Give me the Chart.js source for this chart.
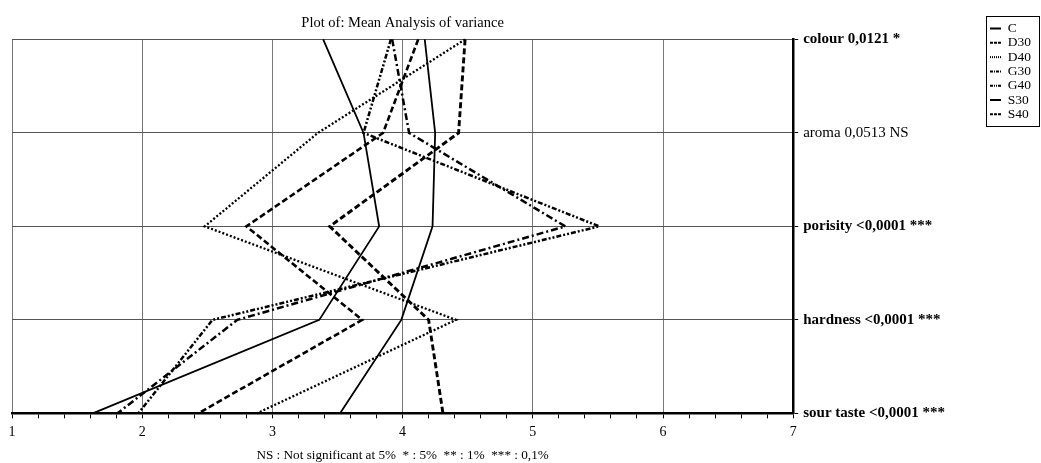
<!DOCTYPE html>
<html>
<head>
<meta charset="utf-8">
<script src="https://cdn.jsdelivr.net/npm/chart.js@4.4.1/dist/chart.umd.min.js"></script>
<style>
html,body{margin:0;padding:0;background:#fff;overflow:hidden;}
#wrap{width:1041px;height:463px;position:relative;}
</style>
</head>
<body>
<div id="wrap"><canvas id="c" width="1041" height="463"></canvas></div>
<script>
const categories = ['colour 0,0121 *', 'aroma 0,0513 NS', 'porisity <0,0001 ***', 'hardness <0,0001 ***', 'sour taste <0,0001 ***'];
const significant = [true, false, true, true, true];
const xTickValues = [1, 2, 3, 4, 5, 6, 7];
const seriesNames = ['C', 'D30', 'D40', 'G30', 'G40', 'S30', 'S40'];
const C   = [3.39, 3.70, 3.82, 3.36, 1.62];
const D30 = [4.12, 3.85, 2.80, 3.69, 2.43];
const D40 = [4.48, 3.35, 2.48, 4.41, 2.88];
const G30 = [3.92, 4.05, 5.25, 2.73, 1.81];
const G40 = [3.91, 3.70, 5.51, 2.54, 1.97];
const S30 = [4.17, 4.25, 4.23, 3.99, 3.52];
const S40 = [4.48, 4.43, 3.44, 4.20, 4.31];
const titleText = 'Plot of: Mean Analysis of variance';
const footText = 'NS : Not significant at 5%  * : 5%  ** : 1%  *** : 0,1%';

const SERIF = '"Liberation Serif", "Times New Roman", serif';
const styles = {
  C:   {dash: [], legendDash: [], width: 1.8},
  D30: {dash: [6, 3], legendDash: [3, 1], width: 2.6},
  D40: {dash: [2, 2], legendDash: [1, 1], width: 2.3},
  G30: {dash: [7, 3, 2, 3], legendDash: [3, 1, 1, 1], width: 2.5},
  G40: {dash: [5, 2, 2, 2, 2, 2], legendDash: [3, 1, 1, 1, 1, 1], width: 2.5},
  S30: {dash: [], legendDash: [], width: 1.8},
  S40: {dash: [6, 3], legendDash: [3, 1], width: 2.9}
};
const seriesData = {C, D30, D40, G30, G40, S30, S40};

const datasets = seriesNames.map(n => ({
  label: n,
  data: seriesData[n],
  borderColor: '#000',
  backgroundColor: '#000',
  borderWidth: styles[n].width,
  borderDash: styles[n].dash,
  pointRadius: 0,
  pointHoverRadius: 0,
  pointStyle: 'line',
  tension: 0,
  fill: false
}));

const legendFrame = {
  id: 'legendFrame',
  afterDraw(chart) {
    const l = chart.legend;
    if (!l || !l.legendHitBoxes || !l.legendHitBoxes.length) return;
    const hb = l.legendHitBoxes;
    const ctx = chart.ctx;
    const left = Math.min(...hb.map(b => b.left)) - 4;
    const top = Math.min(...hb.map(b => b.top)) - 6;
    const bottom = Math.max(...hb.map(b => b.top + b.height)) + 5;
    const right = Math.max(...hb.map(b => b.left + b.width)) + 8;
    ctx.save();
    ctx.strokeStyle = '#000';
    ctx.lineWidth = 1;
    ctx.strokeRect(Math.round(left) + 0.5, Math.round(top) + 0.5, Math.round(right - left), Math.round(bottom - top));
    ctx.restore();
  }
};

new Chart(document.getElementById('c'), {
  type: 'line',
  data: {labels: categories, datasets},
  plugins: [legendFrame],
  options: {
    indexAxis: 'y',
    responsive: false,
    animation: false,
    events: [],
    layout: {padding: {left: 12, right: 0, top: 0, bottom: 0}},
    plugins: {
      tooltip: {enabled: false},
      title: {
        display: true,
        text: titleText,
        fullSize: false,
        color: '#000',
        font: {family: SERIF, size: 14.5, weight: 'normal'},
        padding: {top: 14, bottom: 8}
      },
      legend: {
        display: true,
        position: 'right',
        align: 'start',
        title: {display: true, text: ' ', font: {size: 10}, padding: {top: 0, bottom: 9}},
        labels: {
          color: '#000',
          font: {family: SERIF, size: 13.5},
          usePointStyle: true,
          pointStyleWidth: 11,
          boxHeight: 8,
          padding: 0.8,
          generateLabels: chart => {
            const items = Chart.defaults.plugins.legend.labels.generateLabels(chart);
            items.forEach(it => {
              const n = seriesNames[it.datasetIndex];
              it.lineDash = styles[n].legendDash;
              it.lineWidth = 2;
              it.strokeStyle = '#000';
              it.pointStyle = 'line';
            });
            return items;
          }
        }
      }
    },
    scales: {
      x: {
        type: 'linear',
        min: 1,
        max: 7,
        position: 'bottom',
        border: {display: true, color: '#000', width: 2.5},
        grid: {
          color: c => (Math.abs(c.tick.value - Math.round(c.tick.value)) < 1e-6 ? '#777' : 'rgba(0,0,0,0)'),
          tickColor: '#000',
          tickLength: 5,
          lineWidth: 1
        },
        ticks: {
          stepSize: 0.2,
          autoSkip: false,
          maxRotation: 0,
          padding: 6,
          color: '#000',
          font: {family: SERIF, size: 14},
          callback: v => {
            const r = Math.round(v);
            return (Math.abs(v - r) < 1e-6 && xTickValues.includes(r)) ? String(r) : '';
          }
        },
        title: {
          display: true,
          text: footText,
          color: '#000',
          font: {family: SERIF, size: 13.2},
          padding: {top: 0, bottom: 0}
        }
      },
      y: {
        type: 'category',
        position: 'right',
        offset: false,
        border: {display: true, color: '#000', width: 2.5},
        grid: {color: '#555', lineWidth: 1, tickColor: '#000', tickLength: 5},
        ticks: {
          color: '#000',
          padding: 5,
          font: c => ({family: SERIF, size: 15, weight: significant[c.index] ? 'bold' : 'normal'})
        },
        afterFit: s => { s.width = 196; }
      }
    }
  }
});
</script>
</body>
</html>
